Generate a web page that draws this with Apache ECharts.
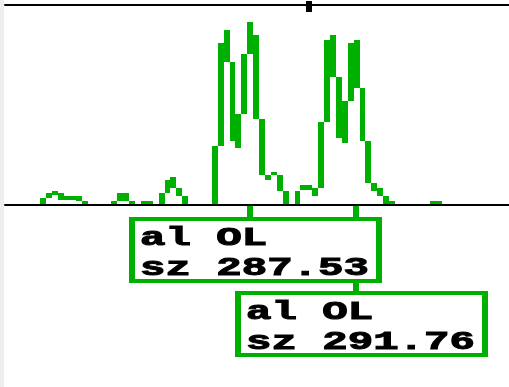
<!DOCTYPE html>
<html>
<head>
<meta charset="utf-8">
<script src="https://cdn.jsdelivr.net/npm/echarts@6/dist/echarts.min.js"></script>
<style>
  html, body { margin: 0; padding: 0; background: #fff; }
  #chart { width: 509px; height: 387px; }
</style>
</head>
<body>
<div id="chart"></div>
<script>
// Electropherogram trace, reduced to one min/max pair per scan bin.
// null = the signal stays on the baseline in that bin.
const binLow = [
  null, null, null, null, null, null, 0, 7, 10, 5,
  5, 5, 4, 0, null, null, null, null, 0, 4,
  4, 0, null, 0, 0, null, 0, 12, 17, 9,
  0, null, null, null, null, 0, 59, 143, 64, 57,
  91, 151, 86, 30, 25, 30, 14, 0, null, 0,
  15, 15, 9, 17, 83, 128, 67, 62, 104, 117,
  64, 22, 14, 9, 0, 0, null, null, null, null,
  null, null, 0, 0, null, null, null, null, null, null,
  null, null, null, null, null, null
];
const binHigh = [
  null, null, null, null, null, null, 7, 12, 14, 12,
  9, 9, 9, 4, null, null, null, null, 4, 12,
  12, 4, null, 4, 4, null, 12, 25, 28, 17,
  9, null, null, null, null, 59, 162, 175, 143, 91,
  151, 183, 170, 86, 30, 33, 30, 14, null, 14,
  20, 20, 17, 83, 165, 170, 128, 104, 162, 165,
  117, 64, 22, 17, 9, 4, null, null, null, null,
  null, null, 4, 4, null, null, null, null, null, null,
  null, null, null, null, null, null
];

// Called peaks (bin position, allele, size in bp)
const peakBins = [41.5, 59.5];
const peakAlleles = ['OL', 'OL'];
const peakSizes = [287.53, 291.76];

// Scan cursor on the top rail
const cursorBin = 51.5;

const TRACE_GREEN = '#00b000';
const BIN_COUNT = 85.3;
const Y_MAX = 200;

const traceData = [];
binLow.forEach((lo, k) => {
  if (lo !== null && binHigh[k] !== null) traceData.push([k, lo, binHigh[k]]);
});

function renderBin(params, api) {
  const k = api.value(0);
  const pTop = api.coord([k, api.value(2)]);
  const pBot = api.coord([k + 1, api.value(1)]);
  const x0 = Math.round(pTop[0]);
  const x1 = Math.round(pBot[0]);
  const yTop = Math.round(pTop[1]);
  const yBot = Math.round(pBot[1]);
  return {
    type: 'rect',
    shape: { x: x0, y: yTop, width: x1 - x0, height: Math.max(yBot - yTop, 3) },
    style: { fill: TRACE_GREEN }
  };
}

function renderLeader(params, api) {
  const base = api.coord([api.value(0), 0]);
  const px = Math.floor(base[0]);
  const row = api.value(1);
  const boxTop = base[1] + 12 + row * 74;
  return {
    type: 'rect',
    shape: { x: px - 3, y: base[1] + 1, width: 6, height: boxTop - base[1] - 1 },
    style: { fill: TRACE_GREEN }
  };
}

function renderPeakLabel(params, api) {
  const base = api.coord([api.value(0), 0]);
  const px = Math.floor(base[0]);
  const row = api.value(1);
  const i = params.dataIndex;
  const left = px - 121;
  const top = base[1] + 12 + row * 74;
  const w = 253, h = 66;
  const textStyle = {
    fontFamily: 'Liberation Mono',
    fontWeight: 'bold',
    fontSize: 26,
    fill: '#000',
    stroke: '#000',
    lineWidth: 1,
    align: 'left',
    verticalAlign: 'middle'
  };
  return {
    type: 'group',
    children: [
      { type: 'rect', shape: { x: left, y: top, width: w, height: h }, style: { fill: TRACE_GREEN } },
      { type: 'rect', shape: { x: left + 6, y: top + 4, width: w - 12, height: h - 8 }, style: { fill: '#fff' } },
      {
        type: 'text', x: left + 11, y: top + 21, scaleX: 1.63,
        style: Object.assign({ text: 'al ' + peakAlleles[i] }, textStyle)
      },
      {
        type: 'text', x: left + 11, y: top + 51, scaleX: 1.63,
        style: Object.assign({ text: 'sz ' + peakSizes[i].toFixed(2) }, textStyle)
      }
    ]
  };
}

function renderCursor(params, api) {
  const k = api.value(0);
  const a = api.coord([k - 0.5, Y_MAX]);
  const b = api.coord([k + 0.5, Y_MAX]);
  const x0 = Math.round(a[0]), x1 = Math.round(b[0]);
  return {
    type: 'rect',
    shape: { x: x0, y: a[1] - 4, width: x1 - x0, height: 11 },
    style: { fill: '#000' }
  };
}

const chart = echarts.init(document.getElementById('chart'), null, { renderer: 'canvas' });

const hiddenAxisParts = {
  axisTick: { show: false },
  axisLabel: { show: false },
  splitLine: { show: false }
};

chart.setOption({
  animation: false,
  backgroundColor: '#fff',
  graphic: [
    { type: 'rect', left: 0, top: 0, shape: { width: 4, height: 387 }, style: { fill: '#eeeeee' }, z: 0 }
  ],
  grid: { left: 5, right: 0, top: 5, bottom: 182 },
  xAxis: [
    Object.assign({
      type: 'value', min: 0, max: BIN_COUNT, position: 'bottom', z: 10,
      axisLine: { show: true, onZero: false, lineStyle: { color: '#000', width: 2 } }
    }, hiddenAxisParts),
    Object.assign({
      type: 'value', min: 0, max: BIN_COUNT, position: 'top', z: 10,
      axisLine: { show: true, onZero: false, lineStyle: { color: '#000', width: 2 } }
    }, hiddenAxisParts)
  ],
  yAxis: { type: 'value', min: 0, max: Y_MAX, show: false },
  series: [
    {
      type: 'custom', name: 'trace', renderItem: renderBin, data: traceData,
      encode: { x: 0, y: [1, 2] }, z: 2, silent: true, clip: false
    },
    {
      type: 'custom', name: 'leaders', renderItem: renderLeader,
      data: peakBins.map((b, i) => [b, i]), encode: { x: 0 }, z: 3, silent: true, clip: false
    },
    {
      type: 'custom', name: 'peak labels', renderItem: renderPeakLabel,
      data: peakBins.map((b, i) => [b, i]), encode: { x: 0 }, z: 4, silent: true, clip: false
    },
    {
      type: 'custom', name: 'cursor', renderItem: renderCursor,
      data: [[cursorBin]], encode: { x: 0 }, z: 12, silent: true, clip: false
    }
  ]
});
</script>
</body>
</html>
